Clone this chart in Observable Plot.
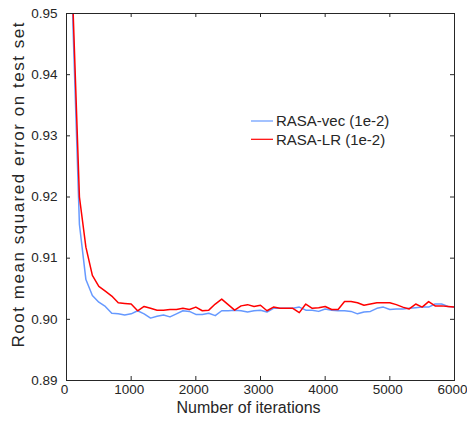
<!DOCTYPE html>
<html>
<head>
<meta charset="utf-8">
<script src="https://cdn.jsdelivr.net/npm/d3@7"></script>
<script src="https://cdn.jsdelivr.net/npm/@observablehq/plot@0.6"></script>
<style>
  html, body { margin: 0; padding: 0; background: #fff; }
  #chart { width: 467px; height: 423px; }
</style>
</head>
<body>
<div id="chart"></div>
<script>
const iterations = [0,100,200,300,400,500,600,700,800,900,1000,1100,1200,1300,1400,1500,1600,1700,1800,1900,2000,2100,2200,2300,2400,2500,2600,2700,2800,2900,3000,3100,3200,3300,3400,3500,3600,3700,3800,3900,4000,4100,4200,4300,4400,4500,4600,4700,4800,4900,5000,5100,5200,5300,5400,5500,5600,5700,5800,5900,6000];

const rasaVec = [1.0,0.948,0.9155,0.9065,0.9039,0.9028,0.9021,0.9010,0.9009,0.9007,0.9009,0.9014,0.9009,0.9002,0.9005,0.9007,0.9004,0.9009,0.9014,0.9013,0.9008,0.9008,0.9010,0.9006,0.9014,0.9014,0.9015,0.9014,0.9012,0.9014,0.9015,0.9012,0.9018,0.9018,0.9018,0.9018,0.9020,0.9015,0.9015,0.9013,0.9017,0.9015,0.9014,0.9014,0.9013,0.9009,0.9012,0.9013,0.9018,0.9020,0.9016,0.9017,0.9017,0.9018,0.9019,0.9020,0.9020,0.9025,0.9025,0.9021,0.9020];

const rasaLR = [1.0,0.951,0.9200,0.9118,0.9072,0.9054,0.9046,0.9038,0.9027,0.9026,0.9025,0.9014,0.9021,0.9018,0.9015,0.9015,0.9016,0.9016,0.9018,0.9016,0.9020,0.9014,0.9015,0.9025,0.9033,0.9024,0.9015,0.9022,0.9024,0.9021,0.9023,0.9014,0.9020,0.9018,0.9018,0.9018,0.9011,0.9025,0.9018,0.9019,0.9021,0.9016,0.9016,0.9029,0.9029,0.9027,0.9023,0.9025,0.9027,0.9027,0.9027,0.9024,0.9020,0.9017,0.9025,0.9020,0.9029,0.9022,0.9022,0.9021,0.9020];

const xTicks = [0,1000,2000,3000,4000,5000,6000];
const yTicks = [0.89,0.90,0.91,0.92,0.93,0.94,0.95];
const seriesNames = ["RASA-vec (1e-2)", "RASA-LR (1e-2)"];
const seriesColors = ["#6699ff", "#ff0000"];
const xLabel = "Number of iterations";
const yLabel = "Root mean squared error on test set";

const vecData = iterations.map((it, i) => ({it, v: rasaVec[i]}));
const lrData = iterations.map((it, i) => ({it, v: rasaLR[i]}));

const axisColor = "#262626";
const W = 467, H = 423, ML = 66, MR = 13, MT = 13, MB = 43;
const frameW = W - ML - MR, frameH = H - MT - MB, tk = 4;

const plot = Plot.plot({
  width: W,
  height: H,
  marginLeft: ML,
  marginRight: MR,
  marginTop: MT,
  marginBottom: MB,
  style: {fontFamily: "'Liberation Sans', Arial, sans-serif", fontSize: "14px", color: axisColor, background: "#fff"},
  x: {domain: [0, 6000]},
  y: {domain: [0.89, 0.95]},
  marks: [
    Plot.line(vecData, {x: "it", y: "v", stroke: seriesColors[0], strokeWidth: 1.5, clip: true}),
    Plot.line(lrData, {x: "it", y: "v", stroke: seriesColors[1], strokeWidth: 1.5, clip: true}),
    Plot.frame({stroke: axisColor}),
    Plot.axisX(xTicks, {anchor: "bottom", tickSize: 0, tickPadding: 4, dx: -2, fontSize: 13.5, label: null, tickFormat: d3.format("d"), fill: axisColor}),
    Plot.axisY(yTicks, {anchor: "left", tickSize: 0, tickPadding: 9, fontSize: 13.5, label: null, tickFormat: d3.format(".2f"), fill: axisColor}),
    // inward ticks on all four sides
    Plot.tickX(xTicks, {x: d => d, insetTop: frameH - tk, stroke: axisColor}),
    Plot.tickX(xTicks, {x: d => d, insetBottom: frameH - tk, stroke: axisColor}),
    Plot.tickY(yTicks, {y: d => d, insetRight: frameW - tk, stroke: axisColor}),
    Plot.tickY(yTicks, {y: d => d, insetLeft: frameW - tk, stroke: axisColor}),
    Plot.text([xLabel], {frameAnchor: "bottom", textAnchor: "middle", dx: -12, dy: 32, fontSize: 16, fill: axisColor}),
    Plot.text([yLabel], {frameAnchor: "left", textAnchor: "middle", rotate: -90, dx: -48, dy: -12, fontSize: 17, fill: axisColor})
  ]
});

const svg = d3.select(plot);
// stretch the y label to the reference's length
svg.selectAll("text").filter(function() { return this.textContent === yLabel; })
  .attr("textLength", 325).attr("lengthAdjust", "spacing");

// Legend (inside the plot, no box)
const lg = svg.append("g").attr("font-family", "'Liberation Sans', Arial, sans-serif").attr("font-size", 15).attr("text-anchor", "start");
seriesNames.forEach((name, i) => {
  const yy = 121 + i * 18.3;
  lg.append("line").attr("x1", 251).attr("x2", 273).attr("y1", yy).attr("y2", yy)
    .attr("stroke", seriesColors[i]).attr("stroke-width", 1.2);
  lg.append("text").attr("x", 276).attr("y", yy).attr("dy", "0.36em").attr("fill", axisColor).text(name);
});

document.getElementById("chart").appendChild(plot);
</script>
</body>
</html>
